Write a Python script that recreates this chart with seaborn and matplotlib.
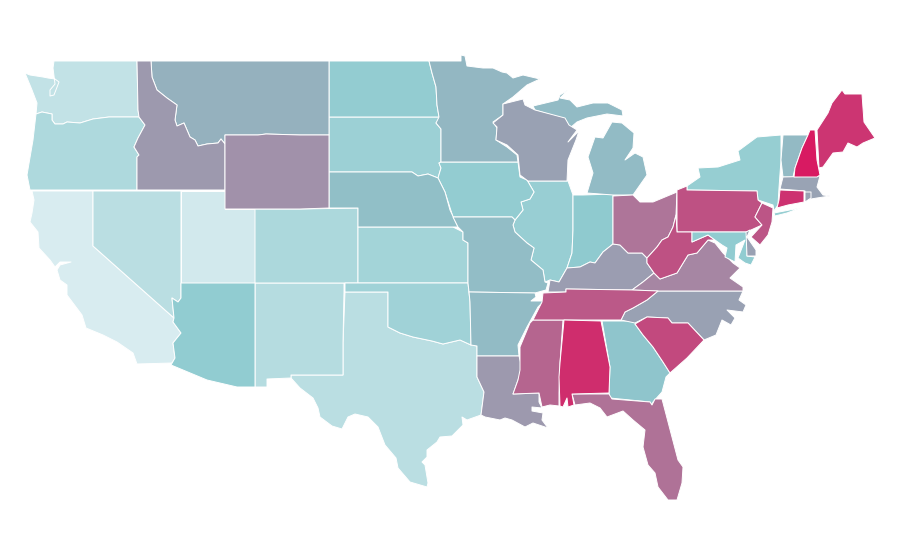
import matplotlib
matplotlib.use("Agg")
import matplotlib.pyplot as plt
import seaborn as sns
import numpy as np
from matplotlib.collections import PolyCollection

STATES = ["CA","UT","WA","NV","TX","NM","OR","CO","KS","OK","SD","IL","NY","ND","IA","AZ","IN","GA","NE","MO",
          "AR","MI_U","MI_L","VT","MN","MT","WI","NC","KY","MA","LA","ID","WY","VA","OH","FL","MS","TN","PA","WV",
          "NJ","SC","ME","CT","AL","NH","MD","DE","RI","LI"]
VALUES = [0,3,10,14,14,16,19,20,24,25,27,29,30,31,31,32,33,37,42,43,
          45,45,45,46,48,53,65,65,67,64,68,68,70,73,77,78,81,84,86,86,
          85,88,93,94,95,100,32,65,65,30]
COLOR_STOPS = ["#d8ecf0","#8ecacf","#9a9fb2","#d81a62"]

OUTLINES = {
"WA":[(54,61),(137,61),(138,110),(139,117),(109,117),(93,119),(80,123),(67,122),(63,124),(55,124),(52,120),(52,114),(42,112),(36,114),(37,103),(32,90),(25,73),(30,75),(43,77),(48,78),(55,79),(59,82),(54,95),(50,96),(50,90),(55,84),(53,68)],
"OR":[(36,114),(42,112),(52,114),(52,120),(55,124),(63,124),(67,122),(80,123),(93,119),(109,117),(139,117),(145,125),(138,138),(134,147),(139,155),(137,157),(137,190),(30,190),(27,175),(33,140)],
"ID":[(137,61),(151,61),(152,77),(157,90),(167,98),(177,105),(175,120),(177,126),(184,123),(190,137),(195,140),(198,146),(207,144),(218,143),(221,139),(225,144),(225,190),(137,190),(137,157),(139,155),(134,147),(138,138),(145,125),(139,117),(138,110)],
"MT":[(151,61),(329,61),(329,135),(300,135),(266,134),(258,135),(225,135),(225,144),(221,139),(218,143),(207,144),(198,146),(195,140),(190,137),(184,123),(177,126),(175,120),(177,105),(167,98),(157,90),(152,77)],
"WY":[(225,135),(258,135),(266,134),(300,135),(329,135),(329,208),(300,209),(225,209)],
"CA":[(32,191),(93,191),(93,246),(174,318),(173,322),(181,333),(173,343),(175,358),(172,363),(137,364),(133,353),(117,342),(103,335),(86,328),(82,315),(67,295),(67,285),(60,280),(57,270),(60,265),(71,262),(60,262),(55,267),(50,260),(39,248),(38,232),(30,222),(32,213),(34,200)],
"NV":[(93,191),(181,191),(181,298),(178,302),(172,298),(174,318),(93,246)],
"UT":[(181,191),(225,191),(225,209),(255,209),(255,283),(181,283)],
"AZ":[(181,283),(255,283),(255,387),(237,387),(207,380),(171,365),(175,358),(173,343),(181,333),(173,322),(174,318),(172,298),(178,302),(181,298)],
"NM":[(255,283),(344,283),(344,292),(343,343),(343,375),(291,375),(291,378),(267,379),(267,387),(255,387)],
"CO":[(255,209),(300,209),(358,208),(358,283),(255,283)],
"KS":[(358,227),(453,227),(463,232),(463,240),(468,243),(468,283),(358,283)],
"NE":[(329,172),(412,172),(418,176),(428,174),(438,178),(445,192),(450,210),(458,227),(358,227),(358,208),(329,208)],
"SD":[(329,117),(439,117),(439,120),(436,123),(441,129),(441,162),(439,163),(441,168),(438,178),(428,174),(418,176),(412,172),(329,172)],
"ND":[(329,61),(429,61),(432,73),(436,87),(437,105),(439,117),(329,117)],
"MN":[(429,61),(461,61),(461,55),(465,56),(467,66),(483,68),(493,68),(502,72),(507,73),(513,78),(523,75),(540,79),(527,85),(513,97),(503,104),(503,115),(493,122),(497,128),(496,140),(507,147),(517,155),(518,162),(441,162),(441,129),(436,123),(439,117),(437,105),(436,87),(432,73)],
"IA":[(441,162),(518,162),(520,177),(527,180),(534,192),(530,199),(521,202),(523,210),(515,220),(512,217),(453,217),(445,192),(438,178),(441,168),(439,163)],
"MO":[(453,217),(512,217),(515,220),(513,225),(515,232),(527,243),(534,248),(531,260),(543,270),(545,282),(548,283),(546,290),(535,293),(469,292),(468,283),(468,243),(463,240),(463,232),(458,227)],
"AR":[(469,292),(535,293),(536,297),(531,301),(544,301),(538,307),(527,327),(518,345),(519,356),(477,356),(477,346),(471,345),(470,302)],
"OK":[(345,283),(468,283),(470,302),(471,345),(460,340),(443,344),(432,341),(413,337),(400,333),(388,327),(388,292),(345,292)],
"TX":[(345,292),(388,292),(388,327),(400,333),(413,337),(432,341),(443,344),(460,340),(471,345),(477,346),(477,377),(484,392),(481,415),(467,420),(462,417),(463,425),(452,436),(440,437),(437,442),(427,450),(427,457),(422,462),(425,465),(428,483),(427,487),(410,482),(398,468),(396,458),(385,445),(378,427),(368,417),(355,414),(348,417),(342,429),(332,426),(320,417),(318,408),(313,398),(300,388),(291,378),(291,375),(343,375),(343,343)],
"LA":[(477,356),(519,356),(522,368),(518,380),(513,394),(539,393),(539,402),(542,408),(532,407),(532,411),(543,413),(542,420),(548,428),(533,423),(525,427),(512,420),(505,418),(500,420),(485,417),(481,415),(484,392),(477,377)],
"MS":[(533,320),(563,320),(560,363),(559,393),(559,406),(550,405),(542,407),(539,393),(513,394),(518,380),(520,370),(520,347),(530,323)],
"AL":[(564,320),(601,321),(610,367),(609,393),(572,394),(574,405),(568,407),(567,398),(563,407),(560,406),(559,377),(560,363)],
"TN":[(533,320),(542,302),(543,293),(566,292),(566,289),(632,290),(658,291),(647,300),(633,308),(625,312),(621,320)],
"KY":[(548,292),(550,280),(559,282),(567,268),(580,267),(590,262),(595,263),(603,252),(613,244),(620,245),(628,253),(642,253),(647,258),(647,263),(654,273),(643,282),(632,290),(566,289),(566,292)],
"VA":[(632,290),(643,282),(654,273),(660,279),(677,273),(688,255),(697,253),(708,240),(715,243),(723,253),(733,263),(740,268),(730,278),(743,287),(743,291),(658,291)],
"WV":[(647,263),(647,258),(657,247),(662,240),(668,237),(673,227),(676,215),(677,232),(692,232),(692,242),(708,235),(715,240),(708,240),(697,253),(688,255),(677,273),(660,279),(654,273)],
"OH":[(613,196),(633,195),(640,202),(653,202),(677,192),(676,215),(673,227),(668,237),(662,240),(657,247),(647,258),(642,253),(628,253),(620,245),(613,244)],
"IN":[(573,195),(583,195),(613,194),(613,223),(613,244),(603,252),(595,263),(590,262),(580,267),(567,268),(572,253),(573,230)],
"IL":[(520,177),(528,181),(568,181),(573,195),(573,230),(572,253),(567,268),(559,282),(550,280),(545,282),(543,270),(531,260),(534,248),(527,243),(515,232),(513,225),(515,220),(523,210),(521,202),(530,199),(534,192),(527,180)],
"WI":[(503,104),(523,99),(525,105),(535,110),(565,118),(569,125),(577,130),(568,142),(579,131),(576,140),(568,160),(567,181),(528,181),(520,175),(518,155),(507,145),(496,140),(497,127),(493,123),(503,115)],
"MI_U":[(533,106),(558,100),(560,95),(568,90),(560,98),(570,100),(577,107),(593,103),(608,103),(622,110),(623,116),(607,114),(587,118),(577,122),(570,128),(565,119),(535,110)],
"MI_L":[(587,193),(613,195),(633,195),(647,175),(643,157),(635,153),(625,160),(633,148),(634,133),(622,123),(612,122),(603,138),(595,137),(588,157),(593,173)],
"NY":[(687,190),(687,186),(700,177),(698,168),(718,167),(740,160),(738,151),(757,137),(781,135),(781,160),(779,188),(778,205),(774,211),(773,205),(758,200),(757,191)],
"LI":[(774,213),(800,208),(787,213),(775,216)],
"VT":[(783,135),(808,135),(802,148),(795,168),(793,177),(783,177),(781,160)],
"NH":[(810,130),(815,130),(817,160),(820,175),(817,177),(794,177),(795,168),(802,148),(808,135)],
"ME":[(817,130),(828,113),(832,103),(842,90),(845,94),(862,94),(864,122),(875,138),(863,143),(857,147),(848,143),(843,152),(833,153),(823,167),(819,168)],
"MA":[(783,177),(820,176),(817,187),(823,195),(830,196),(817,198),(805,200),(805,191),(780,189)],
"RI":[(805,192),(811,192),(811,198),(805,202)],
"CT":[(780,190),(804,191),(804,202),(788,205),(777,208),(779,200)],
"NJ":[(762,203),(773,208),(772,222),(768,235),(760,245),(751,237),(762,225),(755,217)],
"PA":[(677,190),(687,186),(687,190),(757,191),(758,200),(762,203),(755,217),(762,225),(751,230),(747,232),(677,232)],
"DE":[(746,232),(750,230),(747,237),(756,250),(756,256),(747,256)],
"MD":[(692,232),(747,232),(747,256),(755,257),(751,265),(745,263),(738,258),(745,240),(736,245),(735,262),(725,257),(727,248),(722,245),(715,240),(708,235),(692,242)],
"NC":[(658,291),(743,291),(739,300),(746,305),(743,312),(727,310),(735,318),(731,325),(722,320),(716,335),(704,340),(688,323),(672,323),(668,318),(647,317),(635,323),(621,320),(625,312),(633,308),(647,300)],
"SC":[(635,324),(647,317),(668,318),(672,323),(688,323),(704,340),(687,358),(670,373),(663,362),(653,347),(643,335)],
"GA":[(602,321),(637,321),(635,324),(643,335),(653,347),(663,362),(670,373),(666,377),(662,392),(653,402),(652,405),(650,402),(610,398),(609,393),(610,367)],
"FL":[(572,394),(609,394),(612,399),(650,402),(652,405),(655,399),(662,399),(678,460),(683,467),(682,483),(677,500),(668,500),(658,487),(655,473),(648,465),(643,447),(645,430),(633,420),(623,411),(607,417),(600,408),(590,403),(575,405)],
}

sns.set_theme(style="white")
cmap = sns.blend_palette(COLOR_STOPS, as_cmap=True)

fig, ax = plt.subplots(figsize=(9, 5.6), dpi=100)
fig.subplots_adjust(0, 0, 1, 1)
polys = [np.array(OUTLINES[s]) for s in STATES]
pc = PolyCollection(polys, array=np.array(VALUES, float), cmap=cmap, clim=(0, 100),
                    edgecolor="white", linewidth=0.7)
ax.add_collection(pc)
ax.set_xlim(0, 900)
ax.set_ylim(560, 0)
ax.set_axis_off()
fig.savefig("out.png", dpi=100, facecolor="white")
